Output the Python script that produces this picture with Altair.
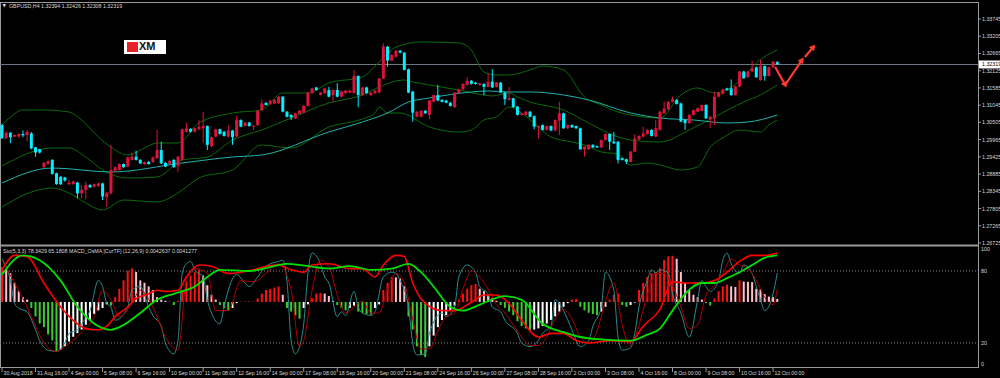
import altair as alt
import pandas as pd

# ---------------- candles (GBPUSD H4) ----------------
opens = [1.3042,1.3001,1.3018,1.3006,1.3006,1.3014,1.3011,1.3016,1.2972,1.2966,
         1.2910,1.2920,1.2933,1.2891,1.2880,1.2878,1.2857,1.2857,1.2862,1.2828,
         1.2839,1.2854,1.2849,1.2851,1.2859,1.2816,1.2828,1.2899,1.2901,1.2920,
         1.2912,1.2933,1.2943,1.2933,1.2920,1.2927,1.2926,1.2938,1.2964,1.2924,
         1.2920,1.2933,1.2914,1.2933,1.3021,1.3030,1.3021,1.3029,1.3032,1.3039,
         1.2976,1.3006,1.3029,1.3021,1.3006,1.3025,1.3006,1.3058,1.3039,1.3050,
         1.3037,1.3042,1.3089,1.3112,1.3108,1.3110,1.3110,1.3131,1.3084,1.3074,
         1.3063,1.3077,1.3081,1.3102,1.3142,1.3160,1.3137,1.3142,1.3152,
         1.3136,1.3152,1.3131,1.3142,1.3144,1.3142,1.3196,1.3136,1.3160,1.3136,
         1.3142,1.3144,1.3188,1.3288,1.3244,1.3256,1.3275,1.3269,1.3217,1.3147,
         1.3068,1.3068,1.3087,1.3074,1.3115,1.3136,1.3121,1.3119,1.3112,1.3098,
         1.3142,1.3154,1.3168,1.3181,1.3175,1.3168,1.3171,1.3162,1.3178,1.3162,
         1.3175,1.3144,1.3121,1.3126,1.3100,1.3074,1.3074,1.3084,1.3070,1.3035,
         1.3042,1.3027,1.3039,1.3025,1.3056,1.3079,1.3032,1.3042,1.3039,1.3032,
         1.2966,1.2966,1.2980,1.2976,1.2972,1.2995,1.3014,1.2990,1.2990,1.2938,
         1.2935,1.2927,1.2959,1.2997,1.3006,1.3014,1.3027,1.3006,1.3027,
         1.3079,1.3091,1.3115,1.3121,1.3110,1.3058,1.3048,1.3074,1.3084,1.3087,
         1.3105,1.3060,1.3063,1.3131,1.3140,1.3157,1.3157,1.3136,1.3163,1.3210,
         1.3192,1.3210,1.3223,1.3183,1.3227,1.3196,1.3223,1.32394]
highs = [1.3046,1.3022,1.3020,1.3013,1.3016,1.3025,1.3027,1.3020,1.2974,1.2968,
         1.2926,1.2931,1.2935,1.2893,1.2882,1.2880,1.2870,1.2868,1.2864,1.2854,
         1.2865,1.2857,1.2859,1.2862,1.2861,1.2832,1.2980,1.2912,1.2922,1.2922,
         1.2943,1.2956,1.2962,1.2935,1.2928,1.2929,1.2943,1.3027,1.2990,1.2926,
         1.2932,1.2935,1.2945,1.3031,1.3050,1.3032,1.3034,1.3058,1.3084,1.3041,
         1.3006,1.3031,1.3031,1.3023,1.3042,1.3027,1.3070,1.3060,1.3052,1.3052,
         1.3042,1.3089,1.3123,1.3114,1.3121,1.3123,1.3133,1.3133,1.3086,1.3076,
         1.3081,1.3089,1.3104,1.3146,1.3159,1.3162,1.3146,1.3159,1.3162,
         1.3154,1.3173,1.3149,1.3152,1.3152,1.3215,1.3198,1.3162,1.3162,1.3146,
         1.3152,1.3190,1.3298,1.3290,1.3264,1.3277,1.3277,1.3271,1.3219,1.3149,
         1.3086,1.3089,1.3089,1.3121,1.3138,1.3168,1.3123,1.3121,1.3114,1.3146,
         1.3156,1.3173,1.3192,1.3183,1.3177,1.3175,1.3173,1.3206,1.3217,1.3177,
         1.3177,1.3146,1.3162,1.3128,1.3102,1.3081,1.3086,1.3086,1.3072,1.3041,
         1.3044,1.3041,1.3041,1.3060,1.3115,1.3081,1.3044,1.3044,1.3041,1.3034,
         1.2976,1.2982,1.2982,1.2978,1.2997,1.3016,1.3016,1.3021,1.2992,1.2940,
         1.2937,1.2961,1.3014,1.3010,1.3037,1.3029,1.3029,1.3058,1.3086,
         1.3115,1.3117,1.3131,1.3123,1.3112,1.3060,1.3076,1.3091,1.3097,1.3107,
         1.3107,1.3070,1.3147,1.3146,1.3156,1.3159,1.3185,1.3165,1.3212,1.3212,
         1.3212,1.3244,1.3225,1.3246,1.3229,1.3225,1.3243,1.32426]
lows = [1.2999,1.2998,1.2985,1.3004,1.3003,1.3004,1.2990,1.2966,1.2943,1.2953,
        1.2908,1.2918,1.2887,1.2855,1.2854,1.2865,1.2854,1.2855,1.2812,1.2812,
        1.2809,1.2845,1.2846,1.2849,1.2807,1.2786,1.2825,1.2897,1.2899,1.2908,
        1.2910,1.2931,1.2931,1.2920,1.2918,1.2918,1.2924,1.2936,1.2920,1.2910,
        1.2918,1.2908,1.2896,1.2931,1.3019,1.3019,1.3019,1.3027,1.2987,1.2964,
        1.2974,1.3004,1.3012,1.3006,1.3004,1.2980,1.3004,1.3035,1.3037,1.3037,
        1.3027,1.3040,1.3087,1.3103,1.3106,1.3108,1.3108,1.3082,1.3066,1.3058,
        1.3061,1.3075,1.3079,1.3100,1.3140,1.3150,1.3135,1.3140,1.3129,
        1.3115,1.3129,1.3129,1.3140,1.3142,1.3140,1.3098,1.3134,1.3140,1.3134,
        1.3140,1.3142,1.3186,1.3225,1.3242,1.3254,1.3267,1.3213,1.3142,1.3053,
        1.3066,1.3066,1.3077,1.3060,1.3113,1.3117,1.3113,1.3110,1.3100,1.3096,
        1.3140,1.3152,1.3166,1.3169,1.3169,1.3166,1.3136,1.3160,1.3158,1.3160,
        1.3142,1.3105,1.3119,1.3096,1.3072,1.3072,1.3072,1.3066,1.3029,1.3000,
        1.3025,1.3025,1.3023,1.3023,1.3011,1.3030,1.3030,1.3033,1.3030,1.2964,
        1.2943,1.2964,1.2970,1.2970,1.2970,1.2993,1.2964,1.2983,1.2922,1.2931,
        1.2920,1.2925,1.2957,1.2995,1.3004,1.3012,1.3006,1.3004,1.3025,
        1.3077,1.3089,1.3113,1.3106,1.3051,1.3027,1.3046,1.3072,1.3082,1.3085,
        1.3061,1.3032,1.3042,1.3129,1.3138,1.3150,1.3134,1.3134,1.3161,1.3187,
        1.3190,1.3208,1.3190,1.3181,1.3181,1.3194,1.3221,1.32308]
closes = [1.3001,1.3018,1.3004,1.3011,1.3014,1.3010,1.3021,1.2969,1.2956,1.2956,
          1.2924,1.2929,1.2889,1.2857,1.2857,1.2868,1.2862,1.2865,1.2828,1.2839,
          1.2854,1.2847,1.2857,1.2859,1.2818,1.2830,1.2901,1.2910,1.2920,1.2910,
          1.2941,1.2943,1.2933,1.2922,1.2926,1.2920,1.2941,1.2964,1.2922,1.2912,
          1.2930,1.2910,1.2943,1.3029,1.3032,1.3021,1.3032,1.3037,1.3039,1.2980,
          1.3004,1.3029,1.3014,1.3008,1.3025,1.3004,1.3058,1.3037,1.3050,1.3039,
          1.3040,1.3087,1.3110,1.3105,1.3119,1.3121,1.3131,1.3084,1.3068,1.3066,
          1.3079,1.3087,1.3102,1.3144,1.3157,1.3152,1.3144,1.3157,1.3131,
          1.3152,1.3131,1.3147,1.3150,1.3150,1.3196,1.3136,1.3160,1.3142,1.3144,
          1.3150,1.3188,1.3288,1.3244,1.3262,1.3275,1.3269,1.3215,1.3144,1.3081,
          1.3084,1.3087,1.3079,1.3119,1.3136,1.3119,1.3115,1.3112,1.3102,1.3144,
          1.3154,1.3171,1.3181,1.3171,1.3171,1.3173,1.3162,1.3178,1.3160,1.3175,
          1.3144,1.3123,1.3126,1.3098,1.3074,1.3079,1.3084,1.3068,1.3037,1.3039,
          1.3027,1.3039,1.3025,1.3058,1.3079,1.3032,1.3042,1.3035,1.3032,1.2966,
          1.2974,1.2980,1.2972,1.2972,1.2995,1.3014,1.2990,1.2985,1.2933,1.2933,
          1.2927,1.2959,1.3000,1.3008,1.3016,1.3027,1.3008,1.3032,1.3084,
          1.3094,1.3115,1.3123,1.3108,1.3053,1.3048,1.3074,1.3089,1.3095,1.3105,
          1.3063,1.3068,1.3131,1.3144,1.3154,1.3152,1.3136,1.3163,1.3210,1.3189,
          1.3210,1.3220,1.3192,1.3227,1.3196,1.3223,1.3241,1.32319]

# ---------------- main-panel indicators (sparse vertices: bar index, price) ----
bb_up_bar = [0,2,5,10,16,19,23,26,30,34,37,42,47,55,62,67,73,78,86,90,94,100,109,112,115,118,121,126,129,134,139,143,147,150,157,162,166,170,173,177,180,185]
bb_up = [1.30423,1.30674,1.30893,1.30893,1.30830,1.30580,1.30047,1.29733,1.29483,1.29702,1.29859,1.29859,1.30486,1.30799,1.30893,1.31426,1.31426,1.31739,1.31927,1.32397,1.32868,1.33024,1.32993,1.32773,1.32084,1.31990,1.31990,1.32147,1.32272,1.32147,1.31301,1.31050,1.30830,1.30736,1.30642,1.31363,1.31583,1.31426,1.31520,1.31927,1.32366,1.32773]
bb_mid_bar = [0,12,16,20,24,30,37,43,49,55,62,69,78,86,90,96,98,102,109,115,117,121,123,126,134,140,147,150,157,164,170,177,181,185]
bb_mid = [1.29138,1.29702,1.29702,1.29420,1.29013,1.28762,1.28793,1.29326,1.29420,1.29953,1.30266,1.30642,1.31112,1.31363,1.31614,1.31833,1.31771,1.31677,1.31520,1.31363,1.31332,1.31426,1.31301,1.31144,1.30893,1.30486,1.30047,1.29953,1.29890,1.30266,1.30674,1.31144,1.31363,1.31677]
bb_low_bar = [0,7,12,16,20,24,29,37,43,47,55,62,69,78,86,89,90,92,95,102,109,112,115,118,121,124,128,131,136,139,143,147,150,154,157,162,166,169,172,176,181,183,185]
bb_low = [1.27853,1.28323,1.28448,1.28292,1.27979,1.27759,1.28072,1.28010,1.28386,1.28762,1.29013,1.29796,1.29702,1.30360,1.30611,1.30799,1.30987,1.30799,1.30799,1.30360,1.30204,1.30266,1.30580,1.30674,1.30987,1.30799,1.30360,1.30047,1.29890,1.29796,1.29577,1.29514,1.29169,1.29232,1.29169,1.29013,1.29107,1.29733,1.30016,1.30266,1.30204,1.30423,1.30580]
ma_bar = [0,12,26,43,55,62,78,86,92,97,102,112,116,121,126,134,140,150,157,165,173,178,185]
ma_val = [1.28605,1.29075,1.28950,1.29232,1.29420,1.29483,1.30204,1.30517,1.30799,1.31144,1.31269,1.31457,1.31489,1.31457,1.31457,1.31363,1.31207,1.30799,1.30642,1.30580,1.30486,1.30517,1.30736]

# forecast arrows (bar index, price)
arrow1_bar = [184.5, 186.9]; arrow1_p = [1.32241, 1.31677]
arrow2_bar = [186.9, 190.9]; arrow2_p = [1.31677, 1.32460]
arrow3_bar = [191.6, 193.6]; arrow3_p = [1.32554, 1.32868]

current_price = 1.32319
price_ticks = [1.33745,1.33205,1.32665,1.32125,1.31585,1.31045,1.30505,1.29965,1.29425,1.28885,1.28345,1.27805,1.27265,1.26725]

# ---------------- sub-panel (Stochastic 5,3,3 + MACD_OsMA) ----------------
osma = [29,27,24,16,9,4,2,-5,-12,-18,-21,-27,-32,-41,-40,-37,-33,-29,-26,-23,
        -19,-15,-10,-7,-5,-2,-3,4,11,18,26,28,25,18,16,13,10,4,2,1,
        0.2,-2.5,1,10,17,22,25,27,22,14,6,2,-2.5,-5,-7,-5,-1,0.3,0.4,0.2,
        0.3,3,7,10,11,12,13,6,-5,-8,-11,-14,-5,-2,3,7,7.5,7,5,
        1,-2.5,-5,-7,-5,-3,-8,-9,-10,-10.5,-5,-2,10,16,21,20.5,19.5,13,-12,-23,
        -37,-44,-46,-37,-28,-21,-15,-11,-7,-3,2,7,11,14,15,11,9,6,3,1,
        -2.5,-5,-8,-11,-16,-20,-22,-24,-23,-22,-20,-18,-15,-12,-8,-4,-1,2,2.5,-4,
        -7,-9,-10,-11,-8,-4,2,6,7,-2.5,-4,-2.5,-0.5,10,16,21,24,25,28,
        35,38,38.5,36,25,16,10,6,4,2,-1,-3,3,9,13,14.5,13,12.5,18,17,
        16.8,16.5,11,10.5,6.5,4.5,4,2.5]
sto_main_bar = [0,2,3,4,6,8,9,11,13,15,16,18,19,21,23,24,25,26,27,30,31,33,35,36,38,39,41,42,43,44,45,46,48,49,50,52,53,54,56,58,59,61,63,66,67,68,69,70,71,72,73,74,76,77,78,
                80,81,82,84,85,86,88,89,91,93,94,95,97,98,99,101,102,105,106,108,109,111,113,114,116,117,119,120,123,124,126,128,129,131,132,134,136,138,140,141,143,144,146,147,148,150,151,152,154,155,156,157,
                159,160,162,164,166,167,168,169,171,172,173,174,176,177,179,180,181,182,184,185]
sto_main = [90,72,53,49,46,31,22,14,13,20,28,31,36,47,72,67,53,50,39,50,64,67,50,43,34,20,11,22,78,86,88,81,75,56,45,36,50,64,77,70,67,75,84,88,89,72,22,11,17,36,78,95,86,75,70,
            42,46,43,63,50,45,43,46,75,79,78,72,50,20,10,11,28,45,42,50,75,85,79,67,61,50,46,39,28,20,17,22,28,34,56,47,31,17,22,34,50,79,64,25,14,16,28,50,72,81,78,81,
            78,61,45,25,56,72,67,63,72,89,95,86,78,85,78,67,56,47,61,78.34]
sto_sig_bar = [0,3,6,8,10,13,15,19,22,24,26,28,31,33,36,39,42,44,46,49,51,54,57,60,63,66,69,71,72,74,76,78,
               80,82,84,86,88,90,92,94,96,98,100,102,104,106,108,110,112,114,116,118,120,122,124,126,128,130,132,134,136,138,140,142,144,146,148,150,152,154,156,158,
               160,162,164,166,168,170,172,174,176,178,180,182,184,185]
sto_sig = [89,70,50,34,20,13,17,29,42,64,56,42,53,64,50,25,14,72,82,78,47,47,72,71,78,86,64,17,22,64,89,84,
           60,45,50,55,45,45,65,78,70,40,15,15,30,42,45,65,80,75,65,52,45,35,25,18,18,25,40,48,40,25,20,30,55,70,35,18,35,60,78,78,
           68,50,32,35,60,68,78,90,85,82,72,58,52,65.18]
macd_bar = [0,3,6,10,14,18,20,23,25,27,30,32,35,37,39,42,44,47,50,54,57,60,63,66,69,72,74,78,
            83,86,89,91,94,96,98,101,105,108,112,115,118,121,124,128,131,134,137,140,145,150,153,157,
            160,163,167,170,173,176,179,182,185]
macd_val = [81,93,92,70,50,36,32,31,34,42,50,57,61,64,63,64,75,85,84,78,79,81,84,85,81,79,85,86,
            82,82,75,85,93,92,70,53,47,47,54,60,60,53,39,25,28,28,22,20,22,21,34,48,
            71,70,70,72,79,88,93,93,95]
sig_bar = [0,5,9,14,18,21,23,26,29,33,37,41,46,49,52,59,65,68,73,78,
           83,88,93,97,100,103,107,110,114,120,124,129,134,138,143,150,154,157,
           160,163,167,170,173,176,179,182,185]
sig_val = [77,93,89,72,50,39,34,31,35,45,56,61,67,75,81,80,84,86,84,82,
           84,81,82,86,79,67,50,47,52,59,56,36,29,25,23,22,27,32,
           47,61,70,70,74,79,85,91,93]
sto_levels = [80, 20]

x_label_bar = [0,8,16,24,32,40,48,56,64,72,80,88,96,104,112,120,128,136,144,152,160,168,176,184]
x_labels = ["30 Aug 2018","31 Aug 16:00","4 Sep 00:00","5 Sep 08:00","6 Sep 16:00","10 Sep 00:00",
            "11 Sep 08:00","12 Sep 16:00","14 Sep 00:00","17 Sep 08:00","18 Sep 16:00","20 Sep 00:00",
            "21 Sep 08:00","24 Sep 16:00","26 Sep 00:00","27 Sep 08:00","28 Sep 16:00","2 Oct 00:00",
            "3 Oct 08:00","4 Oct 16:00","8 Oct 00:00","9 Oct 08:00","10 Oct 16:00","12 Oct 00:00"]

header_main = "GBPUSD,H4  1.32394 1.32426 1.32308 1.32319"
header_sub = "Sto(5,3,3) 78.3429 65.1808   MACD_OsMA [CurTF] (12,26,9) 0.0042637 0.0041277"

n = len(closes)
assert len(opens) == n and len(highs) == n and len(lows) == n and len(osma) == n

# ---------------- styles ----------------
RED = "#dc143c"; CYAN = "#00f0ff"; BAND = "#0b6b0b"; MA = "#20b2aa"
GRID = "#9a9a9a"; TXT = "#d8d8d8"; FONT = "Liberation Sans"

XS = alt.Scale(domain=[-0.477, 232.9], range=[0, 978], nice=False, zero=False)
YM = alt.Scale(domain=[1.26662, 1.34246], range=[245, 3], nice=False, zero=False)
YS = alt.Scale(domain=[0, 100], range=[367, 247], nice=False, zero=False)
OSMA_ZERO = 54.2

def xq(f):
    return alt.X(f"{f}:Q", scale=XS, axis=None)

def ym(f):
    return alt.Y(f"{f}:Q", scale=YM, axis=None)

def ys(f):
    return alt.Y(f"{f}:Q", scale=YS, axis=None)

cdf = pd.DataFrame({"i": range(n), "o": opens, "h": highs, "l": lows, "c": closes})
cdf["dir"] = ["up" if c >= o else "down" for o, c in zip(opens, closes)]
ccol = alt.Color("dir:N", scale=alt.Scale(domain=["up", "down"], range=[RED, CYAN]), legend=None)

layers = []
frame = pd.DataFrame({"k": [0]})
def vrule(x1, x2, y1, y2, color=GRID, w=1):
    return alt.Chart(frame).mark_rule(color=color, strokeWidth=w).encode(
        x=alt.value(x1), x2=alt.value(x2), y=alt.value(y1), y2=alt.value(y2))
layers += [vrule(0, 978, 2.5, 2.5), vrule(0, 978, 245.5, 245.5, w=2), vrule(0, 978, 367.5, 367.5),
           vrule(978.5, 978.5, 2, 368), vrule(0.5, 0.5, 2, 368)]

layers.append(alt.Chart(pd.DataFrame({"p": [current_price]})).mark_rule(color="#6f7984", strokeWidth=1).encode(
    x=alt.value(0), x2=alt.value(978), y=ym("p")))

def line(bars, vals, color, yf, w=1, interp="monotone"):
    d = pd.DataFrame({"b": bars, "v": vals})
    return alt.Chart(d).mark_line(color=color, strokeWidth=w, interpolate=interp).encode(x=xq("b"), y=yf("v"))
layers += [line(bb_up_bar, bb_up, BAND, ym), line(bb_mid_bar, bb_mid, BAND, ym),
           line(bb_low_bar, bb_low, BAND, ym), line(ma_bar, ma_val, MA, ym)]

layers.append(alt.Chart(cdf).mark_rule(strokeWidth=1).encode(x=xq("i"), y=ym("l"), y2="h:Q", color=ccol))
layers.append(alt.Chart(cdf).mark_rule(strokeWidth=3, strokeCap="butt").encode(x=xq("i"), y=ym("o"), y2="c:Q", color=ccol))

AR = "#ff3b30"
for bb, pp, ang in [(arrow1_bar, arrow1_p, 151), (arrow2_bar, arrow2_p, 34), (arrow3_bar, arrow3_p, 39)]:
    d = pd.DataFrame({"b": bb, "p": pp})
    layers.append(alt.Chart(d).mark_line(color=AR, strokeWidth=2.2).encode(x=xq("b"), y=ym("p")))
    layers.append(alt.Chart(d.iloc[[1]]).mark_point(shape="triangle-up", filled=True, color=AR, size=45,
                                                    angle=ang, opacity=1).encode(x=xq("b"), y=ym("p")))

# XM logo
layers.append(alt.Chart(frame).mark_rect(fill="#ffffff", fillOpacity=1, strokeWidth=0).encode(
    x=alt.value(124), x2=alt.value(166), y=alt.value(40), y2=alt.value(54)))
layers.append(alt.Chart(frame).mark_rect(fill="#e8202a", fillOpacity=1, strokeWidth=0).encode(
    x=alt.value(127), x2=alt.value(138), y=alt.value(42), y2=alt.value(52)))
layers.append(alt.Chart(frame).mark_text(text="XM", font=FONT, fontSize=11, fontWeight="bold", fill="#111111",
                                         align="left", baseline="middle").encode(x=alt.value(139), y=alt.value(47)))

pt = pd.DataFrame({"p": price_ticks, "t": [f"{v:.5f}" for v in price_ticks]})
layers.append(alt.Chart(pt).mark_rule(color=GRID).encode(x=alt.value(978), x2=alt.value(981), y=ym("p")))
layers.append(alt.Chart(pt).mark_text(font=FONT, fontSize=5.3, color=TXT, align="left", baseline="middle").encode(
    x=alt.value(982), y=ym("p"), text="t:N"))
cp = pd.DataFrame({"p": [current_price], "t": [f"{current_price:.5f}"]})
layers.append(alt.Chart(cp).mark_rule(color="#ffffff", strokeWidth=8).encode(x=alt.value(979), x2=alt.value(1000), y=ym("p")))
layers.append(alt.Chart(cp).mark_text(font=FONT, fontSize=5.3, color="#000000", align="left", baseline="middle").encode(
    x=alt.value(982), y=ym("p"), text="t:N"))

layers.append(alt.Chart(pd.DataFrame({"v": sto_levels})).mark_rule(color="#8a8a8a", strokeDash=[1, 2]).encode(
    x=alt.value(0), x2=alt.value(978), y=ys("v")))

cols = []
for k, v in enumerate(osma):
    prev = osma[k - 1] if k > 0 else v - 1
    if v >= 0:
        cols.append("#ff1010" if v >= prev else "#ffc0cb")
    else:
        cols.append("#3ccc30" if v <= prev else "#ffffff")
hdf = pd.DataFrame({"i": range(n), "base": OSMA_ZERO, "top": [OSMA_ZERO + v for v in osma], "col": cols})
layers.append(alt.Chart(hdf).mark_rule(strokeWidth=2, strokeCap="butt").encode(
    x=xq("i"), y=ys("base"), y2="top:Q", color=alt.Color("col:N", scale=None)))

layers += [line(sto_main_bar, sto_main, "#2c8a8c", ys, 1, "monotone"),
           line(sto_sig_bar, sto_sig, "#b00000", ys, 1, "monotone"),
           line(macd_bar, macd_val, "#ff0000", ys, 1.6, "monotone"),
           line(sig_bar, sig_val, "#00e000", ys, 1.8, "monotone")]

for vals, txt, base in [([100], ["100"], "top"), ([80, 20], ["80", "20"], "middle"), ([0], ["0"], "bottom")]:
    d = pd.DataFrame({"v": vals, "t": txt})
    layers.append(alt.Chart(d).mark_text(font=FONT, fontSize=5.3, color=TXT, align="left", baseline=base).encode(
        x=alt.value(981), y=ys("v"), text="t:N"))

xl = pd.DataFrame({"b": x_label_bar, "t": x_labels})
layers.append(alt.Chart(xl).mark_rule(color=GRID).encode(x=xq("b"), y=alt.value(367), y2=alt.value(372)))
layers.append(alt.Chart(xl).mark_text(font=FONT, fontSize=5.2, color=TXT, align="left", baseline="middle", dx=1.5).encode(
    x=xq("b"), y=alt.value(372.5), text="t:N"))

layers.append(alt.Chart(frame).mark_text(text="▼", font="DejaVu Sans", fontSize=4.5, color=TXT, align="left",
                                         baseline="middle").encode(x=alt.value(2.5), y=alt.value(6)))
layers.append(alt.Chart(frame).mark_text(text=header_main, font=FONT, fontSize=5.3, color=TXT, align="left",
                                         baseline="middle").encode(x=alt.value(9), y=alt.value(6)))
layers.append(alt.Chart(frame).mark_text(text=header_sub, font=FONT, fontSize=5.3, color=TXT, align="left",
                                         baseline="middle").encode(x=alt.value(3), y=alt.value(251)))

chart = alt.layer(*layers).resolve_scale(y="independent", color="independent").properties(
    width=1000, height=378, padding=0, autosize=alt.AutoSizeParams(type="none"), background="#000000"
).configure_view(stroke=None)

chart.save("out.html", embed_options={"renderer": "svg", "actions": False})
